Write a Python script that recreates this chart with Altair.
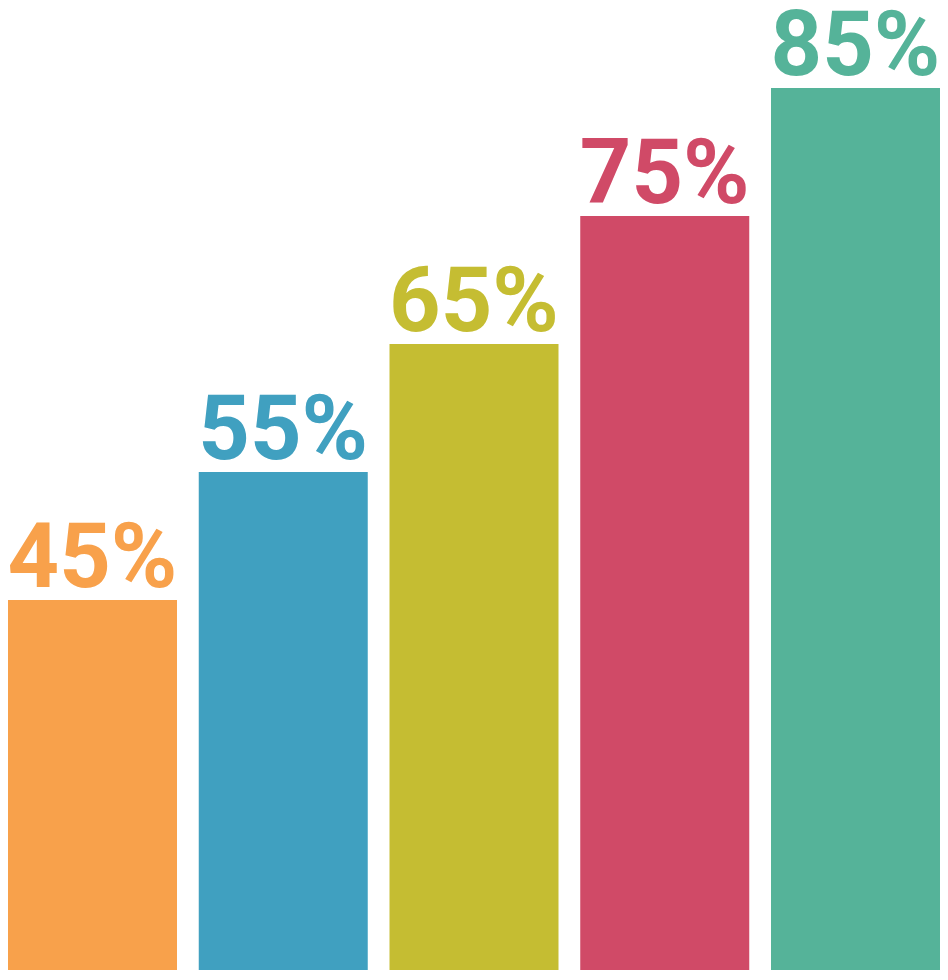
import altair as alt
import pandas as pd

categories = ["A", "B", "C", "D", "E"]
values = [45, 55, 65, 75, 85]
labels = ["45%", "55%", "65%", "75%", "85%"]
colors = ["#F8A14B", "#40A0C0", "#C5BD32", "#D04A67", "#55B399"]

df = pd.DataFrame({"cat": categories, "value": values, "label": labels})

x = alt.X("cat:N", sort=categories, axis=None,
          scale=alt.Scale(paddingInner=0.114, paddingOuter=0))
yscale = alt.Scale(domain=[16.09, 91.25], zero=False, nice=False)
color = alt.Color("cat:N", scale=alt.Scale(domain=categories, range=colors), legend=None)

bars = alt.Chart(df).mark_bar(clip=True).encode(
    x=x,
    y=alt.Y("value:Q", scale=yscale, axis=None),
    y2=alt.datum(16.09),
    color=color,
)

text = alt.Chart(df).mark_text(
    font="Roboto", fontWeight="bold", fontSize=90, baseline="alphabetic",
    align="center", dy=-13,
).encode(
    x=x,
    y=alt.Y("value:Q", scale=yscale, axis=None),
    text="label:N",
    color=color,
)

chart = alt.layer(bars, text).properties(
    width=932, height=962, padding=0,
    autosize=alt.AutoSizeParams(type="none"),
).configure_view(stroke=None)

chart.save("out.html", embed_options={"renderer": "svg", "actions": False})
